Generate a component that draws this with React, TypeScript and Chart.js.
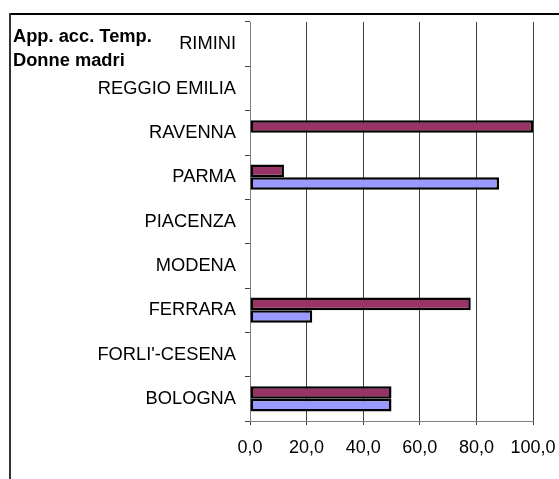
import React, { useEffect, useRef } from "react";
import { Chart, registerables } from "chart.js";

Chart.register(...registerables);

const categories = [
  "RIMINI",
  "REGGIO EMILIA",
  "RAVENNA",
  "PARMA",
  "PIACENZA",
  "MODENA",
  "FERRARA",
  "FORLI'-CESENA",
  "BOLOGNA",
];
const seriesMaroon: (number | null)[] = [null, null, 100, 12, null, null, 78, null, 50];
const seriesBlue: (number | null)[] = [null, null, null, 88, null, null, 22, null, 50];
const titleLines = ["App. acc. Temp.", "Donne madri"];
const xTicks = { min: 0, max: 100, step: 20 };

const FONT = "'Liberation Sans', Arial, sans-serif";

const framePlugin = {
  id: "frameAndTitle",
  beforeDraw(chart: any) {
    const ctx = chart.ctx;
    ctx.save();
    ctx.fillStyle = "#ffffff";
    ctx.fillRect(0, 0, chart.width, chart.height);
    ctx.fillStyle = "#000000";
    ctx.fillRect(9, 13, chart.width - 9, 2);
    ctx.fillStyle = "#333333";
    ctx.fillRect(9, 13, 2, chart.height - 13);
    ctx.restore();
  },
  afterDraw(chart: any) {
    const ctx = chart.ctx;
    ctx.save();
    ctx.fillStyle = "#000000";
    ctx.font = `bold 18.3px ${FONT}`;
    ctx.textBaseline = "alphabetic";
    ctx.textAlign = "left";
    ctx.fillText(titleLines[0], 13, 41.5);
    ctx.fillText(titleLines[1], 13, 65.5);
    ctx.restore();
  },
};

const zeroPad = (s: any) => {
  s.paddingLeft = 0;
  s.paddingRight = 0;
  s.paddingTop = 0;
  s.paddingBottom = 0;
};

export default function App() {
  const ref = useRef<HTMLCanvasElement>(null);
  useEffect(() => {
    if (!ref.current) return;
    const chart = new Chart(ref.current, {
      type: "bar",
      data: {
        labels: categories,
        datasets: [
          {
            label: "A",
            data: seriesMaroon,
            backgroundColor: "#993366",
            borderColor: "#000000",
            borderWidth: 2.5,
            borderSkipped: false,
            barPercentage: 1,
            categoryPercentage: 0.57,
          },
          {
            label: "B",
            data: seriesBlue,
            backgroundColor: "#9999FF",
            borderColor: "#000000",
            borderWidth: 2.5,
            borderSkipped: false,
            barPercentage: 1,
            categoryPercentage: 0.57,
          },
        ],
      },
      options: {
        indexAxis: "y",
        responsive: false,
        animation: false,
        devicePixelRatio: 1,
        layout: { padding: { top: 22, right: 26, left: 0, bottom: 0 } },
        plugins: {
          legend: { display: false },
          tooltip: { enabled: false },
          title: { display: false },
        },
        scales: {
          x: {
            type: "linear",
            min: xTicks.min,
            max: xTicks.max,
            ticks: {
              stepSize: xTicks.step,
              color: "#000000",
              font: { family: FONT, size: 18 },
              padding: 12,
              maxRotation: 0,
              callback: (v: any) => Number(v).toFixed(1).replace(".", ","),
            },
            grid: {
              color: "#404040",
              lineWidth: 1,
              drawTicks: true,
              tickLength: 4,
              tickColor: "#404040",
            },
            border: { color: "#808080", width: 1 },
            afterFit: (s: any) => {
              s.height = 58;
              zeroPad(s);
            },
          },
          y: {
            type: "category",
            offset: true,
            ticks: {
              color: "#000000",
              font: { family: FONT, size: 18.3 },
              padding: 9,
              autoSkip: false,
            },
            grid: {
              display: true,
              drawOnChartArea: false,
              drawTicks: true,
              tickLength: 5,
              offset: true,
              color: "#404040",
            },
            border: { color: "#808080", width: 1 },
            afterFit: (s: any) => {
              s.width = 250;
              zeroPad(s);
            },
          },
        },
      },
      plugins: [framePlugin],
    } as any);
    return () => chart.destroy();
  }, []);
  return (
    <div style={{ position: "fixed", left: 0, top: 0, width: 559, height: 479 }}>
      <canvas ref={ref} width={559} height={479} style={{ display: "block" }} />
    </div>
  );
}
